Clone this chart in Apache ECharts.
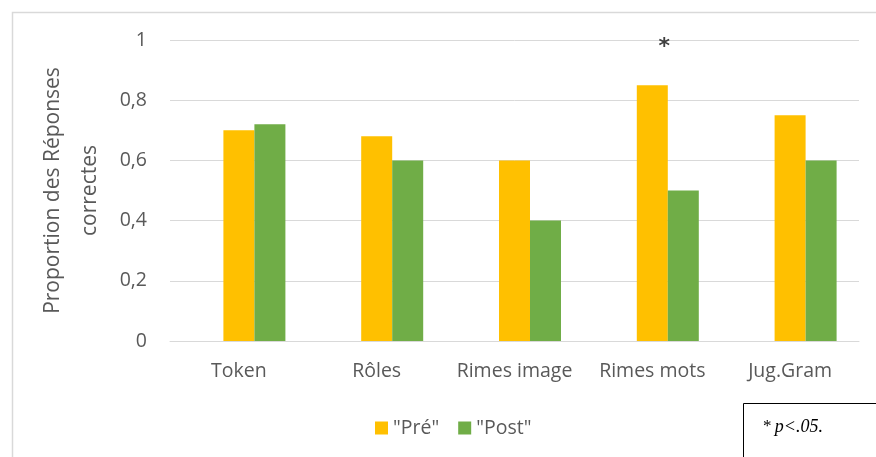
<!DOCTYPE html>
<html>
<head>
<meta charset="utf-8">
<script src="https://cdn.jsdelivr.net/npm/echarts@6/dist/echarts.min.js"></script>
<style>
  html, body { margin: 0; padding: 0; background: #fff; }
  #chart { width: 876px; height: 457px; }
</style>
</head>
<body>
<div id="chart"></div>
<script>
// données
var categories = ['Token', 'Rôles', 'Rimes image', 'Rimes mots', 'Jug.Gram'];
var preValues = [0.70, 0.68, 0.60, 0.85, 0.75];
var postValues = [0.72, 0.60, 0.40, 0.50, 0.60];
var emptyValues = ['-', '-', '-', '-', '-']; // série vide (décale les barres comme dans Excel)
var yTicks = [0, 0.2, 0.4, 0.6, 0.8, 1];
var signifIdx = 3; // Rimes mots : *

var font = 'Open Sans';
var grey = '#595959';

var chart = echarts.init(document.getElementById('chart'));

var preData = preValues.map(function (v, i) {
  if (i !== signifIdx) return v;
  return {
    value: v,
    label: {
      show: true,
      position: 'top',
      formatter: '*',
      offset: [12, -22],
      color: '#404040',
      fontSize: 22,
      fontWeight: 'bold',
      fontFamily: 'DejaVu Sans'
    }
  };
});

var option = {
  animation: false,
  backgroundColor: '#fff',
  grid: { left: 170, right: 17, top: 40, bottom: 116 },
  legend: {
    data: ['"Pré"', '"Post"'],
    left: 370,
    top: 413,
    itemWidth: 13,
    itemHeight: 13,
    itemGap: 19,
    textStyle: { color: grey, fontSize: 19.5, fontFamily: font },
    icon: 'rect'
  },
  xAxis: {
    type: 'category',
    data: categories,
    axisLine: { show: true, lineStyle: { color: '#d9d9d9' } },
    axisTick: { show: false },
    axisLabel: { color: grey, fontSize: 19.5, fontFamily: font, margin: 20, interval: 0 }
  },
  yAxis: {
    type: 'value',
    min: 0,
    max: 1,
    interval: 0.2,
    name: 'Proportion des Réponses\ncorrectes',
    nameLocation: 'middle',
    nameGap: 59,
    nameTextStyle: { color: grey, fontSize: 21, fontFamily: font, lineHeight: 37 },
    axisLine: { show: false },
    axisTick: { show: false },
    splitLine: { lineStyle: { color: '#d9d9d9', width: 1 } },
    axisLabel: {
      color: grey,
      fontSize: 19.5,
      fontFamily: font,
      margin: 23,
      formatter: function (v) {
        if (yTicks.indexOf(Math.round(v * 10) / 10) < 0) return '';
        return String(Math.round(v * 10) / 10).replace('.', ',');
      }
    }
  },
  series: [
    {
      name: 'vide',
      type: 'bar',
      barWidth: 31,
      barGap: '0%',
      data: emptyValues
    },
    {
      name: '"Pré"',
      type: 'bar',
      barWidth: 31,
      barGap: '0%',
      itemStyle: { color: '#FFC000' },
      data: preData
    },
    {
      name: '"Post"',
      type: 'bar',
      barWidth: 31,
      barGap: '0%',
      itemStyle: { color: '#70AD47' },
      data: postValues
    }
  ],
  graphic: [
    {
      type: 'rect',
      left: 10,
      top: 10,
      shape: { width: 900, height: 500 },
      style: { fill: 'none', stroke: '#d9d9d9', lineWidth: 1.5 },
      silent: true
    },
    {
      type: 'rect',
      left: 743,
      top: 403,
      shape: { width: 200, height: 100 },
      style: { fill: '#fff', stroke: '#000', lineWidth: 1 },
      silent: true
    },
    {
      type: 'text',
      left: 763,
      top: 418,
      style: {
        text: '{a|*} {b|p<.05.}',
        rich: {
          a: { fontFamily: 'Liberation Serif', fontSize: 17, fill: '#000' },
          b: { fontFamily: 'Liberation Serif', fontSize: 18, fontStyle: 'italic', fill: '#000' }
        }
      }
    }
  ]
};

chart.setOption(option);
</script>
</body>
</html>
